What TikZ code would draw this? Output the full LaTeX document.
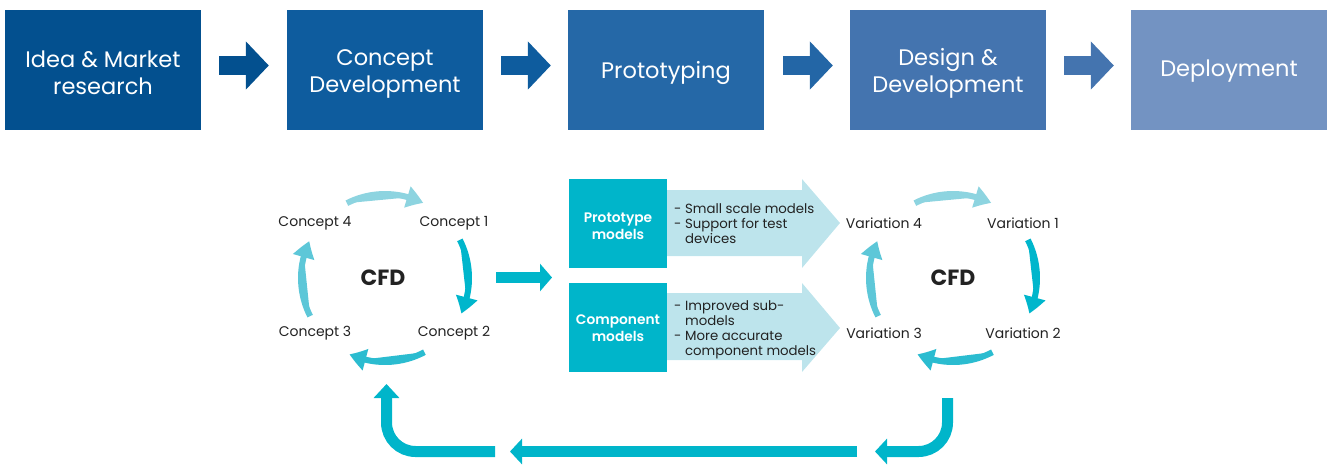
\documentclass[tikz,border=0pt]{standalone}
\usepackage{fontspec}
\setmainfont{Poppins}
\newfontfamily\popmed{Poppins SemiBold}
\usetikzlibrary{arrows.meta,bending}
\definecolor{bA}{HTML}{03508F}
\definecolor{bB}{HTML}{0E5C9E}
\definecolor{bC}{HTML}{2568A7}
\definecolor{bD}{HTML}{4474AF}
\definecolor{bE}{HTML}{7393C2}
\definecolor{aC}{HTML}{2366A6}
\definecolor{cyanM}{HTML}{00B5CA}
\definecolor{chev}{HTML}{BDE4EC}
\definecolor{arcT}{HTML}{8DD4E0}
\definecolor{arcR}{HTML}{00B6CC}
\definecolor{arcB}{HTML}{2BBCD0}
\definecolor{arcL}{HTML}{5DC7D8}
\definecolor{txt}{HTML}{222222}
\tikzset{
  topbox/.style={minimum width=196pt, minimum height=120pt, inner sep=0pt},
  toptext/.style={inner sep=0pt, align=center, text=white, font=\fontsize{22.5}{27}\selectfont},
  toparrow/.style={line width=19pt, -{Triangle[length=23pt,width=47pt]}},
  midbox/.style={fill=cyanM, minimum width=98pt, minimum height=89pt, inner sep=0pt},
  midtext/.style={inner sep=0pt, align=center, text=white, font=\popmed\fontsize{13.8}{16.5}\selectfont},
  chevtext/.style={anchor=west, align=left, inner sep=0pt, text=txt, font=\fontsize{13.3}{15}\selectfont},
  cyclab/.style={text=txt, font=\fontsize{14}{16}\selectfont, inner sep=0pt},
  cfd/.style={text=txt, font=\bfseries\fontsize{22}{24}\selectfont, inner sep=0pt},
  cycarrow/.style={line width=6pt, -{Triangle[length=17pt,width=21pt,bend]}},
  bigarrow/.style={draw=cyanM, line width=11pt},
}
\begin{document}
\begin{tikzpicture}[x=1pt,y=-1pt]
\useasboundingbox (0,0) rectangle (1330,466);
% top row
\node[topbox, fill=bA] (b1) at (103,70) {};
\node[topbox, fill=bB] (b2) at (385,70) {};
\node[topbox, fill=bC] (b3) at (666,70) {};
\node[topbox, fill=bD] (b4) at (948,70) {};
\node[topbox, fill=bE] (b5) at (1229,70) {};
\node[toptext] (t1) at ([shift={(0,3)}]b1.center) {Idea \& Market\\research};
\node[toptext] (t2) at ([shift={(0,3.5)}]b2.center) {Concept\\Development};
\node[toptext] (t3) at ([shift={(0,3)}]b3.center) {Prototyping};
\node[toptext] (t4) at ([shift={(0,3.5)}]b4.center) {Design \&\\Development};
\node[toptext] (t5) at ([shift={(0,1)}]b5.center) {Deployment};
\draw[toparrow, draw=bA] ([shift={(18pt,4.5pt)}]b1.east) -- ([shift={(-18pt,4.5pt)}]b2.west);
\draw[toparrow, draw=bB] ([shift={(18pt,4.5pt)}]b2.east) -- ([shift={(-17pt,4.5pt)}]b3.west);
\draw[toparrow, draw=aC] ([shift={(19pt,4.5pt)}]b3.east) -- ([shift={(-17pt,4.5pt)}]b4.west);
\draw[toparrow, draw=bD] ([shift={(18pt,4.5pt)}]b4.east) -- ([shift={(-17pt,4.5pt)}]b5.west);

% left cycle
\coordinate (cL) at (385,278);
\node[cfd] (cfdL) at (383,277.5) {CFD};
\node[cyclab] (c4) at (315,223.5) {Concept 4};
\node[cyclab] (c1) at (454,223.5) {Concept 1};
\node[cyclab] (c3) at (315,333.5) {Concept 3};
\node[cyclab] (c2) at (454,333.5) {Concept 2};
\draw[cycarrow, draw=arcT, fill=arcT] ([shift={(117:84pt)}]cL) arc[start angle=117, end angle=63, radius=84pt];
\draw[cycarrow, draw=arcR, fill=arcR] ([shift={(27:84pt)}]cL) arc[start angle=27, end angle=-25, radius=84pt];
\draw[cycarrow, draw=arcB, fill=arcB] ([shift={(-62:84pt)}]cL) arc[start angle=-62, end angle=-115, radius=84pt];
\draw[cycarrow, draw=arcL, fill=arcL] ([shift={(207:84pt)}]cL) arc[start angle=207, end angle=154, radius=84pt];

% right cycle
\coordinate (cR) at (953,278);
\node[cfd] (cfdR) at (953,277.5) {CFD};
\node[cyclab] (v4) at (884,223.5) {Variation 4};
\node[cyclab] (v1) at (1023,223.5) {Variation 1};
\node[cyclab] (v3) at (884,333.5) {Variation 3};
\node[cyclab] (v2) at (1023,333.5) {Variation 2};
\draw[cycarrow, draw=arcT, fill=arcT] ([shift={(117:84pt)}]cR) arc[start angle=117, end angle=63, radius=84pt];
\draw[cycarrow, draw=arcR, fill=arcR] ([shift={(27:84pt)}]cR) arc[start angle=27, end angle=-25, radius=84pt];
\draw[cycarrow, draw=arcB, fill=arcB] ([shift={(-62:84pt)}]cR) arc[start angle=-62, end angle=-115, radius=84pt];
\draw[cycarrow, draw=arcL, fill=arcL] ([shift={(207:84pt)}]cR) arc[start angle=207, end angle=154, radius=84pt];

% middle arrow
\coordinate (ma1) at (496,277.5);
\coordinate (ma2) at (552,277.5);
\draw[bigarrow, -{Triangle[length=12pt,width=27pt]}] (ma1) -- (ma2);

% middle boxes and chevrons
\fill[chev] (667,190) -- (802,190) -- (802,179) -- (840,223) -- (802,268) -- (802,256) -- (667,256) -- cycle;
\fill[chev] (667,293) -- (802,293) -- (802,283) -- (840,328) -- (802,372) -- (802,360) -- (667,360) -- cycle;
\node[midbox] (pm) at (618,223.5) {};
\node[midbox] (cm) at (618,327.5) {};
\node[midtext] (pmt) at ([shift={(0,2.5)}]pm.center) {Prototype\\models};
\node[midtext] (cmt) at ([shift={(0,0.5)}]cm.center) {Component\\models};
\node[chevtext] (pt) at (674,224) {- Small scale models\\- Support for test\\\hphantom{- }devices};
\node[chevtext] (ct) at (674,330) {- Improved sub-\\\hphantom{- }models\\- More accurate\\\hphantom{- }component models};

% bottom return arrows
\coordinate (r0) at (947.5,398);
\coordinate (r1) at (875,451.5);
\coordinate (m0) at (857,451.5);
\coordinate (m1) at (510,451.5);
\coordinate (l0) at (495,451.5);
\coordinate (l1) at (386.5,384);
\draw[bigarrow, -{Triangle[length=12pt,width=25pt]}] (r0) -- (947.5,422.5) arc[start angle=0, end angle=-90, radius=29pt] -- (r1);
\draw[bigarrow, -{Triangle[length=12pt,width=25pt]}] (m0) -- (m1);
\draw[bigarrow, -{Triangle[length=14pt,width=25pt]}] (l0) -- (415.5,451.5) arc[start angle=-90, end angle=-180, radius=29pt] -- (l1);
\end{tikzpicture}
\end{document}
